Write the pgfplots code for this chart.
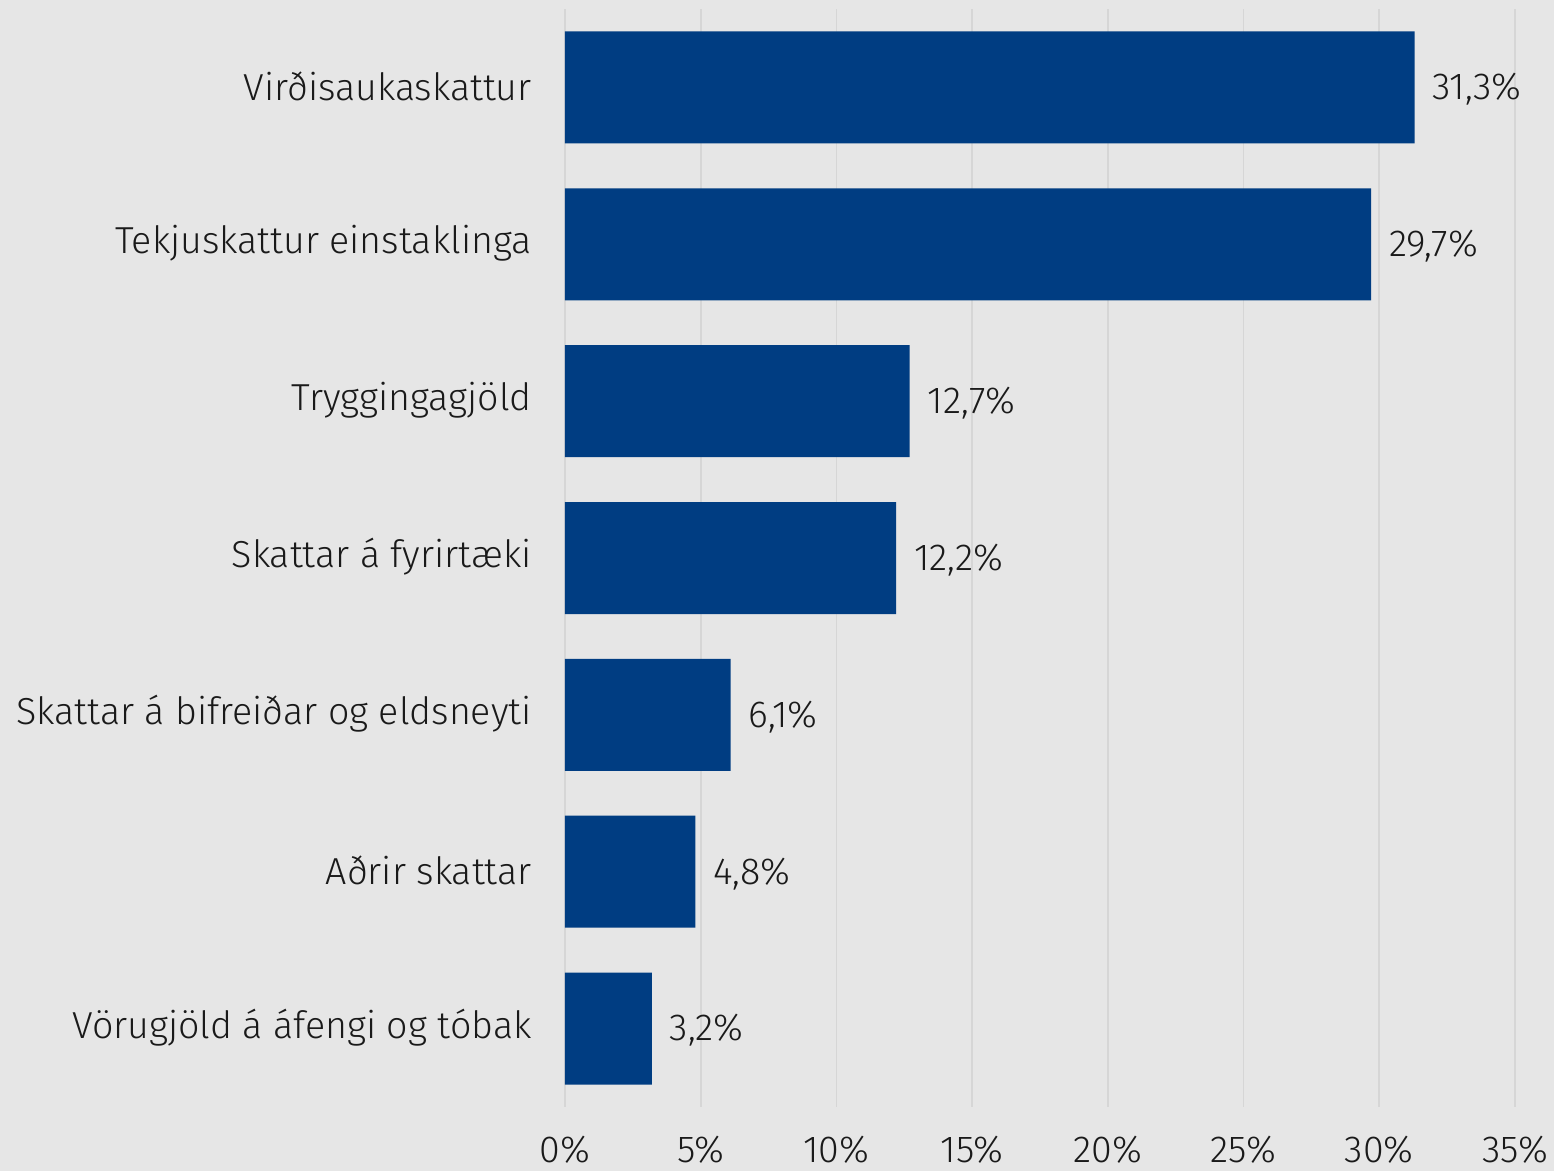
\documentclass[border=0pt]{standalone}
\usepackage{fontspec}
\setmainfont{Fira Sans}[UprightFont=* Light]
\usepackage{pgfplots}
\pgfplotsset{compat=1.18}
\definecolor{bg}{HTML}{E6E6E6}
\definecolor{barblue}{HTML}{003D82}
\definecolor{gridc}{HTML}{D6D6D6}
\definecolor{txt}{HTML}{1A1A1A}
\begin{document}
\begin{tikzpicture}[x=1pt,y=1pt]
\fill[bg] (0,0) rectangle (777,585.5);
\useasboundingbox (0,0) rectangle (777,585.5);
\begin{axis}[
  at={(282.5pt,32pt)}, anchor=south west,
  scale only axis, width=475pt, height=549pt,
  xbar, bar width=56pt,
  xmin=0, xmax=35, ymin=-0.5, ymax=6.5,
  y dir=reverse,
  axis line style={draw=none},
  xtick={0,5,...,35},
  xmajorgrids, grid style={gridc, line width=0.8pt},
  major tick length=0pt,
  ytick={0,...,6},
  yticklabels={Virðisaukaskattur,Tekjuskattur einstaklinga,Tryggingagjöld,Skattar á fyrirtæki,Skattar á bifreiðar og eldsneyti,Aðrir skattar,Vörugjöld á áfengi og tóbak},
  yticklabel style={font=\fontsize{18.8}{22}\selectfont, text=txt, inner sep=0pt, xshift=-16.5pt, yshift=0.5pt},
  xticklabel={\pgfmathprintnumber{\tick}\%},
  xticklabel style={font=\fontsize{18.8}{22}\selectfont, text=txt, yshift=-11pt},
  /pgf/number format/assume math mode=true,
  nodes near coords={\pgfmathprintnumber[fixed,fixed zerofill,precision=1,use comma]{\pgfplotspointmeta}\%},
  nodes near coords style={font=\fontsize{18.8}{22}\selectfont, text=txt, xshift=5.5pt, yshift=-1pt},
  point meta=x,
]
\addplot[fill=barblue, draw=none] coordinates {
(31.3,0) (29.7,1) (12.7,2) (12.2,3) (6.1,4) (4.8,5) (3.2,6)
};
\end{axis}
\end{tikzpicture}
\end{document}
